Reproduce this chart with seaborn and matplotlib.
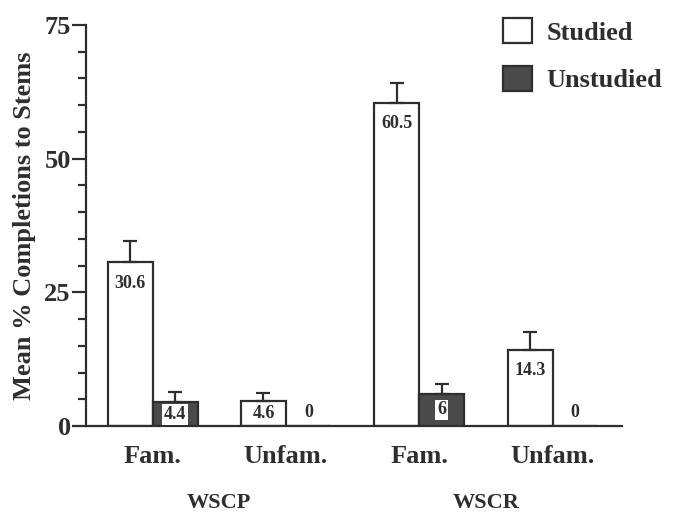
import pandas as pd
import matplotlib.pyplot as plt
from matplotlib.ticker import MultipleLocator
from matplotlib.patches import Patch
import seaborn as sns

# Values
conditions = ['Fam.', 'Unfam.', 'Fam.', 'Unfam.']
groups = ['WSCP', 'WSCR']
studied = [30.6, 4.6, 60.5, 14.3]
unstudied = [4.4, 0, 6, 0]
studied_err = [4.0, 1.6, 3.6, 3.3]
unstudied_err = [2.0, 0, 1.9, 0]

sns.set_style('ticks')
plt.rcParams['font.family'] = ['Liberation Serif', 'DejaVu Serif']
plt.rcParams['font.weight'] = 'bold'

ink = '#2e2e2e'
dark_fill = '#4a4a4a'

slots = ['WSCP Fam.', 'WSCP Unfam.', 'WSCR Fam.', 'WSCR Unfam.']
df = pd.DataFrame({
    'slot': slots * 2,
    'status': ['Studied'] * 4 + ['Unstudied'] * 4,
    'value': studied + unstudied,
})

fig = plt.figure(figsize=(6.73, 5.13), dpi=100)
ax = fig.add_axes([0.1278, 0.1696, 0.7962, 0.7817])

sns.barplot(data=df, x='slot', y='value', hue='status', order=slots,
            hue_order=['Studied', 'Unstudied'],
            palette={'Studied': 'white', 'Unstudied': dark_fill},
            width=0.674, edgecolor=ink, linewidth=1.6, errorbar=None,
            legend=False, ax=ax)

errs = [studied_err, unstudied_err]
vals = [studied, unstudied]
bar_sets = list(ax.containers)
for k, cont in enumerate(bar_sets):
    for bar, v, e in zip(cont, vals[k], errs[k]):
        cx = bar.get_x() + bar.get_width() / 2
        if e > 0:
            ax.errorbar(cx, v, yerr=[[0], [e]], fmt='none', ecolor=ink,
                        elinewidth=1.6, capsize=5, capthick=1.6, zorder=1)
        lab = f'{v:g}'
        if v == 0:
            ax.text(cx, 2.6, lab, ha='center', va='center', fontsize=13,
                    color=ink)
        elif v > 10:
            ax.text(cx, v - 4.0, lab, ha='center', va='center', fontsize=13,
                    color=ink)
        else:
            ax.text(cx, v / 2, lab, ha='center', va='center', fontsize=13,
                    color=ink,
                    bbox=dict(boxstyle='square,pad=0.1', fc='white', ec='none'))

ax.set_ylim(0, 75)
ax.set_xlim(-0.5, 3.52)
ax.yaxis.set_major_locator(MultipleLocator(25))
ax.yaxis.set_minor_locator(MultipleLocator(5))
ax.tick_params(axis='y', which='major', length=10, width=1.6, colors=ink,
               labelsize=19, pad=1)
ax.tick_params(axis='y', which='minor', length=6, width=1.6, colors=ink)
ax.tick_params(axis='x', length=0, labelsize=19, colors=ink, pad=14)
ax.set_xticks(range(4))
ax.set_xticklabels(conditions)
ax.set_xlabel('')
ax.set_ylabel('Mean % Completions to Stems', fontsize=19, color=ink,
              fontweight='bold', labelpad=6)
for t in ax.get_xticklabels() + ax.get_yticklabels():
    t.set_fontweight('bold')

sns.despine(ax=ax)
for s in ['left', 'bottom']:
    ax.spines[s].set_linewidth(1.6)
    ax.spines[s].set_color(ink)

# group labels under the condition names
for i, g in enumerate(groups):
    ax.text(2 * i + 0.5, -0.193, g, transform=ax.get_xaxis_transform(),
            ha='center', va='center', fontsize=16, color=ink,
            fontweight='bold')

handles = [Patch(facecolor='white', edgecolor=ink, linewidth=1.6, label='Studied'),
           Patch(facecolor=dark_fill, edgecolor=ink, linewidth=1.6, label='Unstudied')]
fig.legend(handles=handles, loc='upper left', bbox_to_anchor=(0.747, 0.965),
           frameon=False, fontsize=19, handlelength=1.1, handleheight=1.1,
           labelspacing=0.8, handletextpad=0.55, borderpad=0,
           borderaxespad=0, labelcolor=ink)

fig.savefig('out.png', dpi=100, facecolor='white')
